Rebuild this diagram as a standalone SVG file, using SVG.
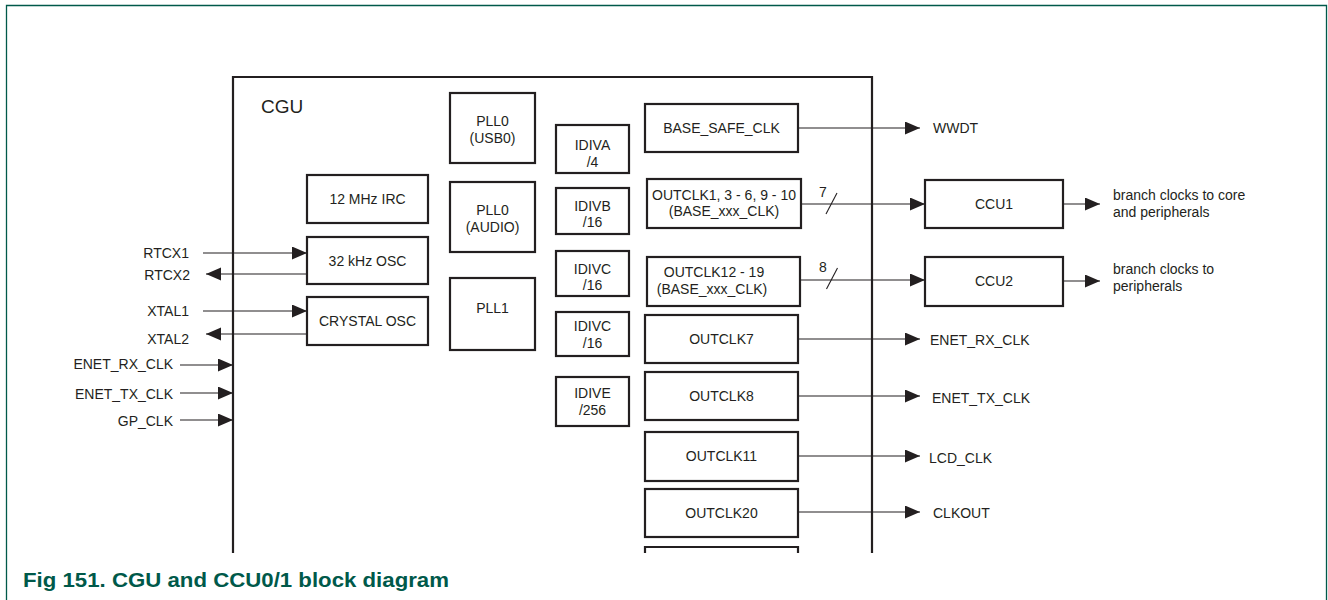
<svg xmlns="http://www.w3.org/2000/svg" width="1328" height="600" viewBox="0 0 1328 600">
<style>
.frame{fill:none;stroke:#00594a;stroke-width:1.3}
.box{fill:#fff;stroke:#231f20;stroke-width:2.2}
.cgu{fill:none;stroke:#231f20;stroke-width:2.2}
.ln{fill:none;stroke:#231f20;stroke-width:1.1}
.t{font-family:"Liberation Sans",Arial,sans-serif;font-size:14px;fill:#231f20}
.m{text-anchor:middle}
.e{text-anchor:end}
.cap{font-family:"Liberation Sans",Arial,sans-serif;font-size:21px;font-weight:bold;fill:#00594a}
</style>
<defs>
<marker id="ah" markerWidth="16" markerHeight="14" refX="15" refY="6.5" orient="auto" markerUnits="userSpaceOnUse">
<path d="M0,0 L15,6.5 L0,13 z" fill="#231f20"/>
</marker>
</defs>
<rect width="1328" height="600" fill="#fff"/>
<path class="frame" d="M6.5,600 V5.5 H1326.5 V600"/>

<g id="cgu">
<path class="cgu" d="M233,553 V77 H872 V553"/>
<text class="t" x="261" y="113" style="font-size:19px">CGU</text>
</g>

<g id="connectors">
<line class="ln" x1="203" y1="253" x2="307" y2="253" marker-end="url(#ah)"/>
<line class="ln" x1="307" y1="274" x2="206" y2="274" marker-end="url(#ah)"/>
<line class="ln" x1="203" y1="311" x2="307" y2="311" marker-end="url(#ah)"/>
<line class="ln" x1="307" y1="334" x2="206" y2="334" marker-end="url(#ah)"/>
<line class="ln" x1="180" y1="365" x2="233" y2="365" marker-end="url(#ah)"/>
<line class="ln" x1="180" y1="393" x2="233" y2="393" marker-end="url(#ah)"/>
<line class="ln" x1="180" y1="420" x2="233" y2="420" marker-end="url(#ah)"/>
<line class="ln" x1="798" y1="128" x2="920" y2="128" marker-end="url(#ah)"/>
<line class="ln" x1="801" y1="204" x2="925" y2="204" marker-end="url(#ah)"/>
<line class="ln" x1="826" y1="214" x2="837" y2="193"/>
<line class="ln" x1="800" y1="280" x2="925" y2="280" marker-end="url(#ah)"/>
<line class="ln" x1="826.5" y1="289" x2="837.5" y2="268"/>
<line class="ln" x1="1063" y1="204" x2="1100" y2="204" marker-end="url(#ah)"/>
<line class="ln" x1="1063" y1="281" x2="1100" y2="281" marker-end="url(#ah)"/>
<line class="ln" x1="798" y1="339" x2="920" y2="339" marker-end="url(#ah)"/>
<line class="ln" x1="798" y1="396" x2="920" y2="396" marker-end="url(#ah)"/>
<line class="ln" x1="798" y1="456" x2="920" y2="456" marker-end="url(#ah)"/>
<line class="ln" x1="798" y1="512" x2="920" y2="512" marker-end="url(#ah)"/>
<text class="t" x="819" y="197">7</text>
<text class="t" x="819" y="272">8</text>
</g>

<g id="labels">
<text class="t e" x="189" y="258">RTCX1</text>
<text class="t e" x="190" y="280">RTCX2</text>
<text class="t e" x="189" y="316">XTAL1</text>
<text class="t e" x="189" y="344">XTAL2</text>
<text class="t e" x="173" y="369">ENET_RX_CLK</text>
<text class="t e" x="173" y="399">ENET_TX_CLK</text>
<text class="t e" x="173" y="426">GP_CLK</text>
<text class="t" x="933" y="133">WWDT</text>
<text class="t" x="930" y="345">ENET_RX_CLK</text>
<text class="t" x="932" y="403">ENET_TX_CLK</text>
<text class="t" x="929" y="463">LCD_CLK</text>
<text class="t" x="933" y="518">CLKOUT</text>
<text class="t" x="1113" y="200">branch clocks to core</text>
<text class="t" x="1113" y="217">and peripherals</text>
<text class="t" x="1113" y="274">branch clocks to</text>
<text class="t" x="1113" y="291">peripherals</text>
</g>

<g id="irc12"><rect class="box" x="307" y="175" width="121" height="48"/><text class="t m" x="367.5" y="204">12 MHz IRC</text></g>
<g id="osc32"><rect class="box" x="307" y="237" width="121" height="47"/><text class="t m" x="367.5" y="266">32 kHz OSC</text></g>
<g id="xosc"><rect class="box" x="307" y="297" width="121" height="48"/><text class="t m" x="367.5" y="326">CRYSTAL OSC</text></g>

<g id="pll0usb"><rect class="box" x="450" y="93" width="85" height="70"/><text class="t m" x="492.5" y="126">PLL0</text><text class="t m" x="492.5" y="143">(USB0)</text></g>
<g id="pll0audio"><rect class="box" x="450" y="182" width="85" height="70"/><text class="t m" x="492.5" y="215">PLL0</text><text class="t m" x="492.5" y="232">(AUDIO)</text></g>
<g id="pll1"><rect class="box" x="450" y="278" width="85" height="72"/><text class="t m" x="492.5" y="313">PLL1</text></g>

<g id="idiva"><rect class="box" x="556" y="125" width="73" height="48"/><text class="t m" x="592.5" y="150">IDIVA</text><text class="t m" x="592.5" y="167">/4</text></g>
<g id="idivb"><rect class="box" x="556" y="188" width="73" height="46"/><text class="t m" x="592.5" y="211">IDIVB</text><text class="t m" x="592.5" y="227">/16</text></g>
<g id="idivc1"><rect class="box" x="556" y="251" width="73" height="45"/><text class="t m" x="592.5" y="274">IDIVC</text><text class="t m" x="592.5" y="290">/16</text></g>
<g id="idivc2"><rect class="box" x="556" y="312" width="73" height="44"/><text class="t m" x="592.5" y="331">IDIVC</text><text class="t m" x="592.5" y="348">/16</text></g>
<g id="idive"><rect class="box" x="556" y="377" width="73" height="49"/><text class="t m" x="592.5" y="398">IDIVE</text><text class="t m" x="592.5" y="415">/256</text></g>

<g id="basesafe"><rect class="box" x="645" y="104" width="153" height="48"/><text class="t m" x="721.5" y="133">BASE_SAFE_CLK</text></g>
<g id="outclk1"><rect class="box" x="647" y="179" width="154" height="49"/><text class="t m" x="724" y="200">OUTCLK1, 3 - 6, 9 - 10</text><text class="t m" x="724" y="216">(BASE_xxx_CLK)</text></g>
<g id="outclk12"><rect class="box" x="647" y="257" width="153" height="49"/><text class="t m" x="714" y="277">OUTCLK12 - 19</text><text class="t m" x="712" y="294">(BASE_xxx_CLK)</text></g>
<g id="outclk7"><rect class="box" x="645" y="315" width="153" height="48"/><text class="t m" x="721.5" y="344">OUTCLK7</text></g>
<g id="outclk8"><rect class="box" x="645" y="372" width="153" height="48"/><text class="t m" x="721.5" y="401">OUTCLK8</text></g>
<g id="outclk11"><rect class="box" x="645" y="432" width="153" height="49"/><text class="t m" x="721.5" y="461">OUTCLK11</text></g>
<g id="outclk20"><rect class="box" x="645" y="489" width="153" height="48"/><text class="t m" x="721.5" y="518">OUTCLK20</text></g>
<g id="outclkpartial"><path class="cgu" d="M645,553 V547 H798 V553"/></g>

<g id="ccu1"><rect class="box" x="925" y="180" width="138" height="48"/><text class="t m" x="994" y="209">CCU1</text></g>
<g id="ccu2"><rect class="box" x="925" y="257" width="138" height="49"/><text class="t m" x="994" y="286">CCU2</text></g>

<text class="cap" x="23" y="587" textLength="426" lengthAdjust="spacingAndGlyphs">Fig 151. CGU and CCU0/1 block diagram</text>
</svg>
